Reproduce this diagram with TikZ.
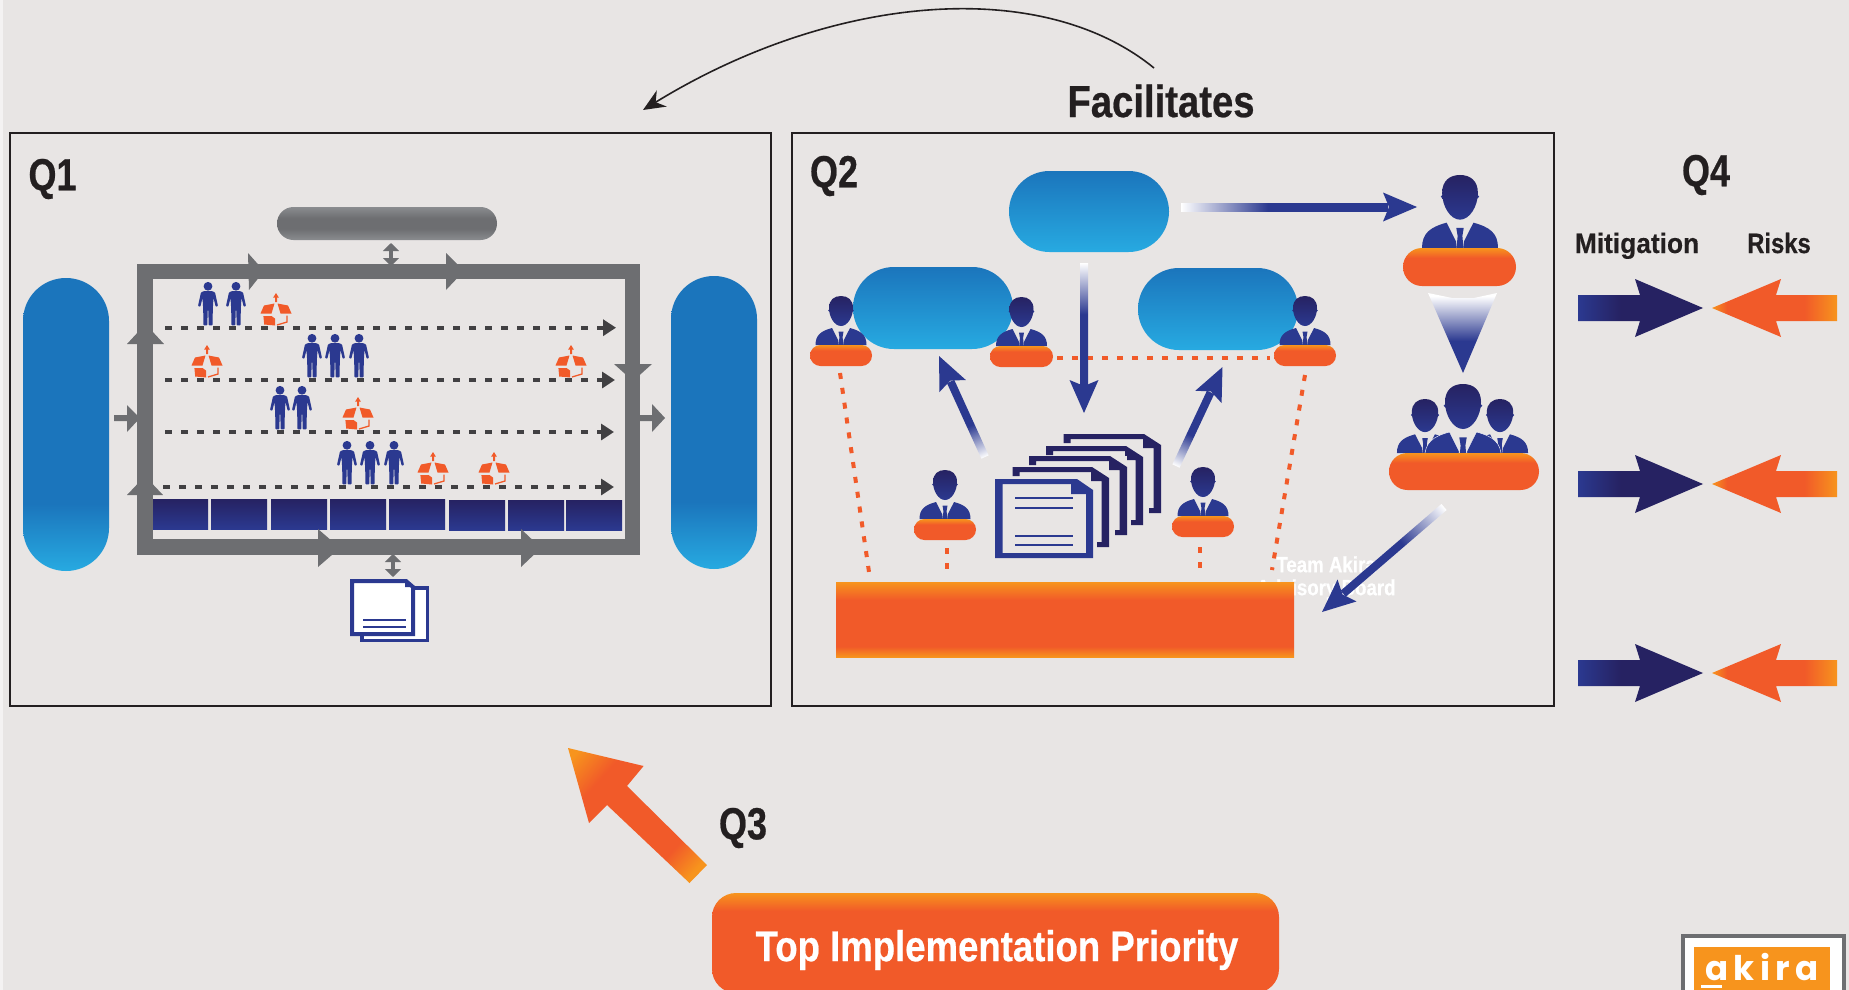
\documentclass[tikz,border=0pt]{standalone}
\usepackage{fontspec}
\setmainfont{Liberation Sans}
\newfontfamily\hfa[FakeStretch=0.80,FakeBold=0.5]{Liberation Sans}
\newfontfamily\hfb[FakeStretch=0.85,FakeBold=0.5]{Liberation Sans}
\newfontfamily\hfc[FakeStretch=0.94,FakeBold=0.3]{Liberation Sans}
\newfontfamily\logofont[LetterSpace=16]{Poppins}
\usetikzlibrary{arrows.meta}
\definecolor{cBg}{HTML}{E8E5E4}
\definecolor{cStrip}{HTML}{F4F2F2}
\definecolor{cInk}{HTML}{231F20}
\definecolor{cDark}{HTML}{414042}
\definecolor{cGray}{HTML}{6D6E71}
\definecolor{cGrayL}{HTML}{8A8C8F}
\definecolor{cNavy}{HTML}{2B3990}
\definecolor{cNavyD}{HTML}{262262}
\definecolor{cBlueD}{HTML}{1B75BC}
\definecolor{cBlueL}{HTML}{27AAE1}
\definecolor{cOr}{HTML}{F15A29}
\definecolor{cAm}{HTML}{F7941D}
\pgfdeclareverticalshading{boardshade}{100bp}{color(0bp)=(cAm); color(25bp)=(cAm); color(32bp)=(cOr); color(63bp)=(cOr); color(75bp)=(cAm); color(100bp)=(cAm)}
\pgfdeclareverticalshading{bannershade}{100bp}{color(0bp)=(cAm); color(25bp)=(cOr); color(66bp)=(cOr); color(75bp)=(cAm); color(100bp)=(cAm)}
\pgfdeclareverticalshading{deskshade}{100bp}{color(0bp)=(cOr); color(62bp)=(cOr); color(75bp)=(cAm); color(100bp)=(cAm)}
\pgfdeclareverticalshading{tallblue}{100bp}{color(0bp)=(cBlueL); color(25bp)=(cBlueL); color(36.5bp)=(cBlueD); color(100bp)=(cBlueD)}
\pgfdeclareverticalshading{grayshade}{100bp}{color(0bp)=(cGrayL); color(25bp)=(cGrayL); color(42bp)=(cGray); color(58bp)=(cGray); color(75bp)=(cGrayL); color(100bp)=(cGrayL)}
\pgfdeclareverticalshading{conefade}{100bp}{color(0bp)=(cNavy); color(45bp)=(cNavy); color(73bp)=(white); color(100bp)=(white)}
\pgfdeclarehorizontalshading{orarrow}{100bp}{color(0bp)=(cAm); color(25bp)=(cAm); color(31bp)=(cOr); color(62bp)=(cOr); color(75bp)=(cAm); color(100bp)=(cAm)}
\pgfdeclarehorizontalshading{bigarrow}{100bp}{color(0bp)=(cAm); color(18bp)=(cAm); color(31bp)=(cOr); color(68bp)=(cOr); color(79bp)=(cAm); color(100bp)=(cAm)}
\pgfdeclarehorizontalshading{navyarrow}{100bp}{color(0bp)=(cNavy); color(25bp)=(cNavy); color(42bp)=(cNavyD); color(100bp)=(cNavyD)}
\pgfdeclarehorizontalshading{fadeshade}{100bp}{color(0bp)=(white); color(25bp)=(white); color(46bp)=(cNavy); color(100bp)=(cNavy)}
\tikzset{
  qframe/.style={draw=cInk,line width=2pt},
  qlabel/.style={text=cInk,font=\hfa\bfseries\fontsize{45}{50}\selectfont,inner sep=0pt},
  tallpill/.style={shading=tallblue,shading angle=0},
  widepill/.style={top color=cBlueD,bottom color=cBlueL},
  graypill/.style={shading=grayshade},
  deskpill/.style={shading=deskshade},
  flowline/.style={draw=cDark,line width=4pt,dash pattern=on 7pt off 9pt,-{Triangle[length=13pt,width=16pt]}},
  frameline/.style={draw=cGray,line width=15.5pt},
  framehead/.style={fill=cGray},
  doublearrow/.style={draw=cGray,line width=4pt,{Triangle[length=8pt,width=16pt]}-{Triangle[length=8pt,width=16pt]}},
  ordash/.style={draw=cOr,line width=4pt,dash pattern=on 6pt off 9pt},
  docline/.style={draw=cNavy,line width=2.5pt},
  curvearrow/.style={draw=cInk,line width=1.6pt,-{Stealth[length=22pt,width=19pt]}},
}
\newcommand\pill[6]{%
  \pgfmathsetmacro\myw{#5-#3}\pgfmathsetmacro\myh{#6-#4}%
  \pgfmathsetmacro\myr{0.499*min(\myw,\myh)}%
  \pgfmathsetmacro\mycx{(#3+#5)/2}\pgfmathsetmacro\mycy{(#4+#6)/2}%
  \node[#2,shape=rectangle,rounded corners=\myr pt,inner sep=0pt,minimum width=\myw pt,minimum height=\myh pt] (#1) at (\mycx,\mycy) {};}
\newcommand\bust[4][]{%
  \begin{scope}[shift={(#2,#3)},scale=#4]
    \fill[cNavy] (-11.6,-34.5) circle (1.3);
    \fill[cNavy] (11.6,-34.5) circle (1.3);
    \shade[top color=cNavyD,bottom color=cNavy] (-12,-37) .. controls (-12,-45) and (-7,-49) .. (0,-49) .. controls (7,-49) and (12,-45) .. (12,-37) .. controls (12,-28) and (6.5,-19) .. (0,-19) .. controls (-6.5,-19) and (-12,-28) .. (-12,-37) -- cycle;
    \fill[cNavy,#1] (-25.5,0) .. controls (-25.5,-10) and (-20,-14) .. (-9,-17) -- (-2.7,-4.5) -- (-2.2,0) -- cycle;
    \fill[cNavy,#1] (25.5,0) .. controls (25.5,-10) and (20,-14) .. (9,-17) -- (2.7,-4.5) -- (2.2,0) -- cycle;
    \fill[cNavy] (-2.5,-13.5) -- (2.5,-13.5) -- (1.6,-8) -- (2.3,0) -- (-2.3,0) -- (-1.6,-8) -- cycle;
  \end{scope}}
\newcommand\man[2]{%
  \begin{scope}[shift={(#1,#2)}]
    \fill[cNavy] (0,4.3) circle (4.4);
    \fill[cNavy,rounded corners=0.8pt] (-3.5,9) -- (3.5,9) -- (7,10.3) -- (10,24) -- (7.7,24.8) -- (5.5,16) -- (4.8,27) -- (4.6,43.3) -- (0.6,43.3) -- (0.4,28) -- (-0.4,28) -- (-0.6,43.3) -- (-4.6,43.3) -- (-4.8,27) -- (-5.5,16) -- (-7.7,24.8) -- (-10,24) -- (-7,10.3) -- cycle;
  \end{scope}}
\newcommand\openbox[2]{%
  \begin{scope}[shift={(#1,#2)}]
    \fill[cOr] (0,0) -- (2.8,4.5) -- (1,4.5) -- (1,9) -- (-1,9) -- (-1,4.5) -- (-2.8,4.5) -- cycle;
    \fill[cOr] (-15.5,20.5) -- (-12,12.5) -- (-1.5,10.5) -- (-4.5,20.5) -- cycle;
    \fill[cOr] (15.5,20.5) -- (12,12.5) -- (1.5,10.5) -- (4.5,20.5) -- cycle;
    \fill[cOr] (-12.6,23) -- (-4.5,23) -- (-1,25.5) -- (-1,32.5) -- (-11.8,31.5) -- cycle;
    \draw[cOr,line width=1.3pt] (1,32) -- (11,29) -- (11,22.5);
  \end{scope}}
\newcommand\sheet[4]{%
  \fill[cBg] (#1,#2) -- (#3,#2) -- (#3,#4) -- (#1,#4) -- cycle;
  \fill[cNavyD] (#1,#2) -- (#3-17,#2) -- (#3,#2+11) -- (#3,#4) -- (#3-12,#4) -- (#3-12,#4-5) -- (#3-7.5,#4-5) -- (#3-7.5,#2+14) -- (#3-18,#2+14) -- (#3-18,#2+5) -- (#1+7,#2+5) -- (#1+7,#2+9) -- (#1,#2+9) -- cycle;}
\newcommand\gradarrow[5]{%
  \pgfpointanchor{#1}{center}\pgfgetlastxy{\myxa}{\myya}%
  \pgfpointanchor{#2}{center}\pgfgetlastxy{\myxb}{\myyb}%
  \pgfmathsetmacro\mydx{\myxb-\myxa}\pgfmathsetmacro\mydy{\myyb-\myya}%
  \pgfmathsetmacro\myang{atan2(\mydy,\mydx)}\pgfmathsetmacro\mylen{veclen(\mydx,\mydy)}%
  \begin{scope}[transform canvas={shift={(\myxa,\myya)},rotate=\myang}]
    \shade[shading=fadeshade] (0,-#3/2) rectangle (\mylen-#4+5,#3/2);
    \fill[cNavy] (\mylen,0) -- (\mylen-#4,-#5/2) -- (\mylen-#4+6,0) -- (\mylen-#4,#5/2) -- cycle;
  \end{scope}}
\newcommand\riskrow[1]{%
  \shade[shading=navyarrow] (1578,#1-13) -- (1640,#1-13) -- (1635,#1-29) -- (1703,#1) -- (1635,#1+29) -- (1640,#1+13) -- (1578,#1+13) -- cycle;
  \shade[shading=orarrow] (1837,#1-13) -- (1776,#1-13) -- (1781,#1-29) -- (1712,#1) -- (1781,#1+29) -- (1776,#1+13) -- (1837,#1+13) -- cycle;}
\begin{document}
\begin{tikzpicture}[x=1pt,y=-1pt]
\useasboundingbox (0,0) rectangle (1849,990);
\fill[cStrip] (0,0) rectangle (1849,990);
\fill[cBg] (3,0) rectangle (1849,990);

\node[qframe,shape=rectangle,inner sep=0pt,minimum width=761.5pt,minimum height=573pt] (q1box) at (390.25,419.5) {};
\node[qframe,shape=rectangle,inner sep=0pt,minimum width=761.5pt,minimum height=573pt] (q2box) at (1173,419.5) {};
\node[qlabel] (q1lab) at (52.5,179) {Q1};
\node[qlabel] (q2lab) at (834,176) {Q2};
\node[qlabel] (q3lab) at (743,828) {Q3};
\node[qlabel] (q4lab) at (1706,175) {Q4};
\node[text=cInk,font=\hfb\bfseries\fontsize{45}{50}\selectfont,inner sep=0pt] (fac) at (1161,101) {Facilitates};
\node[text=cInk,font=\hfc\bfseries\fontsize{28}{32}\selectfont,inner sep=0pt,anchor=base] (mit) at (1637,253) {Mitigation};
\node[text=cInk,font=\hfb\bfseries\fontsize{28}{32}\selectfont,inner sep=0pt,anchor=base] (rsk) at (1779,253) {Risks};

\coordinate (cvs) at (1154,68);
\coordinate (cve) at (643,110);
\draw[curvearrow] (cvs) .. controls (1040,-25) and (830,-5) .. (cve);

\pill{lpill}{tallpill}{23}{278}{109}{571}
\pill{rpill}{tallpill}{671}{276}{757}{569}
\pill{gpill}{graypill}{277}{207}{497}{240}
\coordinate (d1a) at (391,243); \coordinate (d1b) at (391,266);
\draw[doublearrow] (d1a) -- (d1b);
\coordinate (d2a) at (393,554); \coordinate (d2b) at (393,577);
\draw[doublearrow] (d2a) -- (d2b);

\foreach \bx/\by in {152/499,211/499,271/499,330/499,389/499,449/500,508/500,566/500}
  \shade[top color=cNavyD,bottom color=cNavy] (\bx,\by) rectangle (\bx+56,\by+30);

\draw[frameline] (145,271.5) rectangle (632.5,547);
\fill[framehead] (248,253) -- (264,271) -- (249,290) -- cycle;
\fill[framehead] (446,253) -- (464,271) -- (446,290) -- cycle;
\fill[framehead] (127,344) -- (145.5,324) -- (164,344) -- cycle;
\fill[framehead] (127,495) -- (145,476) -- (163,495) -- cycle;
\fill[framehead] (614,364) -- (652,364) -- (633,381) -- cycle;
\fill[framehead] (318,529) -- (340,548) -- (318,567) -- cycle;
\fill[framehead] (521,529) -- (541,548) -- (521,567) -- cycle;
\fill[framehead] (114,415) -- (127,415) -- (127,405) -- (140,418) -- (127,432) -- (127,421) -- (114,421) -- cycle;
\fill[framehead] (640,415) -- (652,415) -- (652,404) -- (665,418) -- (652,432) -- (652,421) -- (640,421) -- cycle;

\coordinate (f1a) at (165,327.7); \coordinate (f1b) at (616,327.7);
\coordinate (f2a) at (165,380);   \coordinate (f2b) at (615,380);
\coordinate (f3a) at (165,432);   \coordinate (f3b) at (614,432);
\coordinate (f4a) at (163,487);   \coordinate (f4b) at (614,487);
\draw[flowline] (f1a) -- (f1b);
\draw[flowline] (f2a) -- (f2b);
\draw[flowline] (f3a) -- (f3b);
\draw[flowline] (f4a) -- (f4b);

\man{208}{282}\man{236}{282}\openbox{276}{293}
\man{312}{334}\man{335}{334}\man{359}{334}\openbox{207}{345}\openbox{571}{345}
\man{280}{386}\man{302}{386}\openbox{358}{397}
\man{347}{441}\man{370}{441}\man{394}{441}\openbox{433}{452}\openbox{494}{452}

\draw[cNavy,line width=3.5pt,fill=white] (362,588) rectangle (427.5,640.5);
\draw[cNavy,line width=4pt,fill=white] (352,581) -- (406,581) -- (413,587) -- (413,634) -- (352,634) -- cycle;
\fill[cNavy] (405,580) -- (415,587) -- (405,587) -- cycle;
\coordinate (s1a) at (363,620); \coordinate (s1b) at (406,620);
\coordinate (s2a) at (363,627); \coordinate (s2b) at (406,627);
\draw[docline] (s1a) -- (s1b);
\draw[docline] (s2a) -- (s2b);

\pill{topp}{widepill}{1009}{171}{1169}{252}
\pill{leftp}{widepill}{853}{267}{1013}{349}
\pill{rightp}{widepill}{1138}{268}{1298}{350}

\node[text=white,font=\hfb\bfseries\fontsize{22}{23}\selectfont,align=center,inner sep=0pt] (boardtxt) at (1326,578) {Team Akira\\Advisory Board};
\node[shading=boardshade,shape=rectangle,inner sep=0pt,minimum width=458pt,minimum height=75pt] (board) at (1065,619.5) {};

\coordinate (oa1) at (840,373); \coordinate (oa2) at (869,572);
\coordinate (oc1) at (1305,375); \coordinate (oc2) at (1272,570);
\coordinate (od1) at (947,548); \coordinate (od2) at (947,570);
\coordinate (oe1) at (1200,547); \coordinate (oe2) at (1200,570);
\draw[ordash] (oa1) -- (oa2);
\draw[ordash] (oc1) -- (oc2);
\draw[ordash] (od1) -- (od2);
\draw[ordash] (oe1) -- (oe2);

\bust{841}{345}{1}\pill{deska}{deskpill}{810}{345}{872}{366}
\bust{1021.5}{346}{1}\pill{deskb}{deskpill}{990}{346}{1053}{367}
\bust{1305}{345}{1}\pill{deskc}{deskpill}{1274}{345}{1336}{366}
\bust{945}{519}{1}\pill{deskd}{deskpill}{914}{519}{976}{540}
\bust{1203}{516}{1}\pill{deske}{deskpill}{1172}{516}{1234}{537}
\bust{1460}{248}{1.49}\pill{deskt}{deskpill}{1403}{248}{1516}{286}
\bust{1425}{453}{1.1}\bust{1500}{453}{1.1}
\bust[draw=white,line width=0.4pt]{1463}{457.5}{1.5}
\pill{deskg}{deskpill}{1389}{453}{1539}{490}

\draw[ordash] ([xshift=4pt,yshift=-1.5pt]deskb.east) -- ([xshift=-4pt,yshift=-2.5pt]deskc.west);

\sheet{1063.6}{434}{1161}{513}
\sheet{1046}{446}{1143}{525}
\sheet{1029}{456}{1127}{535}
\sheet{1012.5}{467}{1109}{547}
\fill[cBg] (995,479) -- (1077,479) -- (1093,490) -- (1093,558) -- (995,558) -- cycle;
\fill[cNavy,even odd rule] (995,479) -- (1077,479) -- (1093,490) -- (1093,558) -- (995,558) -- cycle
  (1002.5,484) -- (1071,484) -- (1071,494) -- (1086,494) -- (1086,553) -- (1002.5,553) -- cycle;
\coordinate (l1a) at (1015,498); \coordinate (l1b) at (1073,498);
\coordinate (l2a) at (1015,508); \coordinate (l2b) at (1073,508);
\coordinate (l3a) at (1015,536); \coordinate (l3b) at (1073,536);
\coordinate (l4a) at (1015,545); \coordinate (l4b) at (1073,545);
\draw[docline] (l1a) -- (l1b);
\draw[docline] (l2a) -- (l2b);
\draw[docline] (l3a) -- (l3b);
\draw[docline] (l4a) -- (l4b);

\coordinate (g1a) at (1181,207); \coordinate (g1b) at (1417,207);
\coordinate (g2a) at (1084,263); \coordinate (g2b) at (1084,413);
\coordinate (g3a) at (985,457);  \coordinate (g3b) at (939,356);
\coordinate (g4a) at (1176,466); \coordinate (g4b) at (1222.5,367);
\coordinate (g5a) at (1444,507); \coordinate (g5b) at (1322,612);
\gradarrow{g1a}{g1b}{8}{34}{29}
\gradarrow{g2a}{g2b}{8}{33}{29}
\gradarrow{g3a}{g3b}{8}{33}{29}
\gradarrow{g4a}{g4b}{8}{33}{29}
\gradarrow{g5a}{g5b}{8}{33}{29}

\shade[shading=conefade] (1428,293) -- (1452,298) -- (1474,298) -- (1497,293) -- (1463,373) -- cycle;

\riskrow{308}
\riskrow{484}
\riskrow{673}

\shade[shading=bigarrow,shading angle=-42] (568,748) -- (643.6,766) -- (627,786) -- (707,865) -- (689.5,883) -- (607,805) -- (589,823) -- cycle;
\node[shading=bannershade,shape=rectangle,rounded corners=24pt,inner sep=0pt,minimum width=567pt,minimum height=100pt] (banner) at (995.5,943) {};
\node[text=white,font=\hfb\bfseries\fontsize{43}{46}\selectfont,inner sep=0pt] (bannertxt) at (997,950) {Top Implementation Priority};

\node[draw=cGray,line width=4pt,fill=white,shape=rectangle,inner sep=0pt,minimum width=161pt,minimum height=70pt] (logobox) at (1763.5,971) {};
\fill[cAm] (1694,947) rectangle (1830,1000);
\node[text=white,font=\logofont\bfseries\fontsize{34}{36}\selectfont,inner sep=0pt,anchor=base] (logotxt) at (1762,980) {akira};
\fill[white] (1701,985) rectangle (1722,988);
\end{tikzpicture}
\end{document}
